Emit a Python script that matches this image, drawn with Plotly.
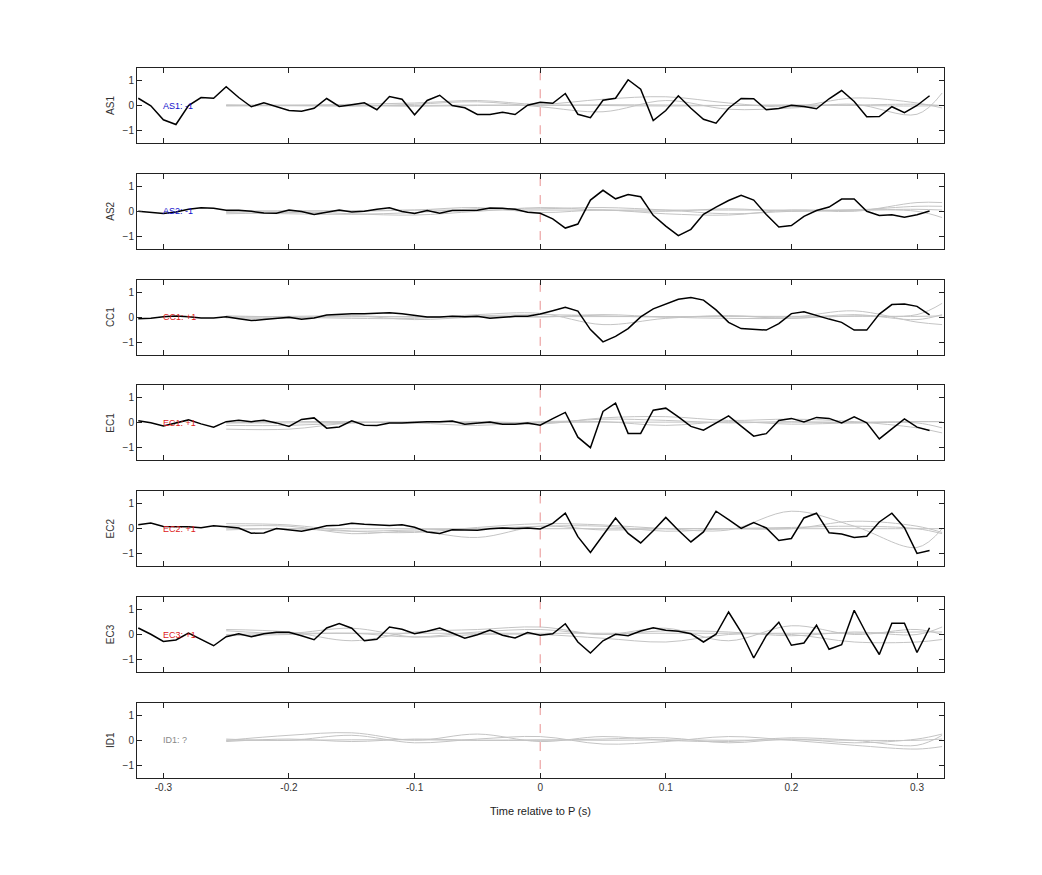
import plotly.graph_objects as go

x_black = [round(-0.32 + 0.01 * i, 2) for i in range(64)]
x_gray = [-0.25, -0.2, -0.15, -0.1, -0.05, 0.0, 0.05, 0.1, 0.15, 0.2, 0.25, 0.3, 0.32]

names = ["AS1", "AS2", "CC1", "EC1", "EC2", "EC3", "ID1"]
labels = ["AS1: -1", "AS2: -1", "CC1: +1", "EC1: +1", "EC2: +1", "EC3: +1", "ID1: ?"]
label_colors = ["#1010cc", "#1010cc", "#dd2020", "#dd2020", "#dd2020", "#dd2020", "#888888"]

AS1 = [0.29, -0.01, -0.57, -0.76, 0.0, 0.32, 0.29, 0.75, 0.32, -0.05, 0.11, -0.04, -0.2, -0.23, -0.11, 0.28,
       -0.04, 0.03, 0.11, -0.17, 0.36, 0.25, -0.37, 0.2, 0.41, 0.0, -0.09, -0.36, -0.36, -0.27, -0.36, 0.01,
       0.13, 0.09, 0.48, -0.35, -0.49, 0.21, 0.29, 1.03, 0.65, -0.6, -0.2, 0.39, -0.11, -0.55, -0.71, -0.11,
       0.28, 0.27, -0.17, -0.12, 0.01, -0.04, -0.13, 0.27, 0.6, 0.16, -0.45, -0.44, -0.05, -0.29, 0.0, 0.39]
AS2 = [0.0, -0.04, -0.09, -0.03, 0.08, 0.14, 0.12, 0.04, 0.04, 0.0, -0.07, -0.08, 0.05, -0.01, -0.13, -0.04,
       0.05, -0.03, 0.0, 0.08, 0.14, -0.01, -0.09, 0.03, -0.08, 0.03, 0.04, 0.04, 0.13, 0.12, 0.08, -0.04,
       -0.08, -0.3, -0.67, -0.51, 0.45, 0.84, 0.5, 0.67, 0.58, -0.16, -0.59, -0.97, -0.72, -0.12, 0.17, 0.43,
       0.64, 0.45, -0.13, -0.63, -0.57, -0.2, 0.03, 0.17, 0.49, 0.49, 0.0, -0.17, -0.14, -0.24, -0.14, 0.01]
CC1 = [-0.07, -0.05, 0.01, 0.04, 0.01, -0.04, -0.04, 0.01, -0.07, -0.14, -0.1, -0.04, -0.01, -0.09, -0.04, 0.08,
       0.12, 0.13, 0.13, 0.14, 0.17, 0.13, 0.05, 0.0, 0.0, 0.03, 0.01, 0.03, -0.05, -0.01, 0.03, 0.03,
       0.12, 0.25, 0.39, 0.24, -0.5, -0.99, -0.77, -0.46, 0.01, 0.33, 0.52, 0.71, 0.78, 0.68, 0.29, -0.21,
       -0.46, -0.48, -0.52, -0.26, 0.14, 0.21, 0.05, -0.08, -0.21, -0.52, -0.52, 0.12, 0.5, 0.52, 0.43, 0.09]
EC1 = [0.09, 0.01, -0.12, -0.01, 0.12, -0.04, -0.17, 0.05, 0.11, 0.05, 0.11, 0.0, -0.14, 0.14, 0.2, -0.21,
       -0.16, 0.08, -0.09, -0.1, 0.0, 0.0, 0.03, 0.05, 0.05, 0.08, -0.05, 0.0, 0.04, -0.05, -0.05, 0.0,
       -0.09, 0.17, 0.42, -0.57, -0.99, 0.46, 0.79, -0.42, -0.42, 0.51, 0.59, 0.24, -0.14, -0.29, 0.01, 0.28,
       -0.13, -0.53, -0.43, 0.1, 0.18, 0.04, 0.22, 0.18, 0.0, 0.24, 0.0, -0.64, -0.24, 0.16, -0.17, -0.3]
EC2 = [0.16, 0.23, 0.09, 0.09, 0.08, 0.04, 0.12, 0.08, 0.03, -0.18, -0.17, 0.01, -0.03, -0.1, 0.0, 0.12,
       0.14, 0.22, 0.18, 0.17, 0.13, 0.16, 0.06, -0.13, -0.19, -0.04, -0.06, -0.06, 0.0, 0.03, 0.01, 0.03,
       -0.01, 0.21, 0.62, -0.32, -0.95, -0.26, 0.43, -0.19, -0.57, -0.08, 0.45, -0.06, -0.53, -0.13, 0.7, 0.36,
       0.01, 0.25, 0.03, -0.47, -0.39, 0.43, 0.62, -0.16, -0.21, -0.35, -0.3, 0.27, 0.62, 0.04, -0.99, -0.87]
EC3 = [0.26, 0.01, -0.28, -0.22, 0.06, -0.19, -0.45, -0.09, 0.03, -0.09, 0.03, 0.09, 0.09, -0.05, -0.21, 0.26,
       0.44, 0.25, -0.25, -0.19, 0.3, 0.21, 0.03, 0.13, 0.26, 0.06, -0.15, -0.01, 0.18, -0.03, -0.14, 0.08,
       -0.03, 0.03, 0.43, -0.3, -0.74, -0.25, 0.01, -0.05, 0.14, 0.27, 0.17, 0.13, 0.03, -0.3, 0.01, 0.9,
       0.1, -0.94, -0.05, 0.49, -0.43, -0.34, 0.37, -0.59, -0.41, 0.97, 0.01, -0.8, 0.45, 0.45, -0.72, 0.27]
black_series = [AS1, AS2, CC1, EC1, EC2, EC3, None]

# gray background traces (4 per panel), values at x_gray
GRAY = {
    "AS1": [[0.0, 0.02, 0.0, -0.03, 0.0, 0.02, 0.0, -0.02, 0.0, 0.02, 0.0, -0.02, 0.0],
            [0.03, 0.0, 0.05, 0.1, 0.2, 0.05, 0.25, 0.35, 0.1, -0.05, 0.3, 0.1, -0.1],
            [-0.02, 0.0, -0.03, 0.05, 0.15, -0.05, -0.25, 0.2, -0.15, -0.1, 0.05, -0.35, 0.5],
            [0.0, -0.01, 0.01, 0.0, 0.02, 0.0, 0.03, 0.02, 0.0, 0.01, 0.02, 0.05, 0.0]],
    "AS2": [[-0.05, -0.1, -0.12, -0.05, 0.1, 0.1, 0.15, 0.05, -0.1, 0.0, 0.05, 0.2, 0.2],
            [0.0, 0.0, -0.1, -0.15, 0.0, 0.15, 0.05, 0.0, 0.1, 0.0, 0.05, 0.0, -0.25],
            [-0.1, -0.05, 0.0, 0.05, 0.15, -0.05, 0.05, -0.1, -0.15, 0.05, 0.0, 0.35, 0.35],
            [0.0, 0.02, 0.03, 0.05, 0.05, 0.05, 0.05, 0.05, 0.05, 0.05, 0.05, 0.08, 0.05]],
    "CC1": [[0.0, 0.03, 0.05, 0.0, 0.05, 0.1, 0.05, 0.0, 0.05, -0.05, 0.1, -0.1, 0.1],
            [0.05, 0.0, -0.05, -0.05, 0.1, 0.15, -0.3, -0.05, 0.05, 0.0, 0.25, -0.2, -0.3],
            [-0.03, -0.05, 0.05, -0.1, 0.0, 0.0, 0.1, 0.0, -0.05, -0.05, 0.05, 0.1, 0.55],
            [0.0, 0.0, 0.01, 0.02, 0.02, 0.02, 0.02, 0.02, 0.03, 0.03, 0.03, 0.03, 0.05]],
    "EC1": [[-0.25, -0.25, 0.0, 0.0, 0.05, 0.0, 0.15, 0.1, 0.0, 0.05, 0.0, 0.05, 0.05],
            [-0.1, -0.1, 0.0, 0.05, 0.0, -0.05, 0.2, 0.25, 0.1, 0.15, 0.05, -0.2, -0.4],
            [0.0, 0.05, 0.05, 0.0, -0.1, 0.05, 0.05, -0.1, 0.05, -0.05, 0.0, 0.0, -0.2],
            [0.0, 0.0, 0.02, 0.02, 0.02, 0.02, 0.03, 0.03, 0.03, 0.03, 0.03, 0.05, 0.05]],
    "EC2": [[0.2, 0.15, -0.1, -0.15, 0.05, 0.2, 0.15, 0.0, -0.05, 0.7, 0.1, -0.75, 0.0],
            [0.1, 0.1, -0.2, -0.1, -0.35, 0.1, -0.05, 0.0, 0.0, 0.0, 0.3, 0.1, -0.15],
            [-0.05, 0.0, -0.1, -0.05, 0.0, 0.1, 0.1, -0.1, 0.0, 0.05, 0.1, 0.0, -0.2],
            [0.0, 0.0, 0.0, 0.0, 0.0, 0.0, 0.0, 0.0, 0.0, 0.0, 0.0, 0.0, 0.0]],
    "EC3": [[0.2, 0.1, -0.25, 0.1, 0.2, 0.3, 0.0, 0.25, -0.25, 0.35, 0.0, 0.2, 0.0],
            [0.15, 0.05, 0.25, -0.1, 0.0, 0.0, -0.15, -0.3, 0.0, 0.0, -0.3, -0.3, -0.2],
            [-0.05, 0.0, 0.05, -0.1, 0.1, 0.2, 0.0, 0.15, 0.1, -0.05, 0.1, 0.0, 0.3],
            [0.0, 0.05, 0.05, 0.05, 0.05, 0.05, 0.05, 0.05, 0.05, 0.05, 0.05, 0.1, 0.1]],
    "ID1": [[0.0, 0.2, 0.3, 0.0, 0.25, -0.05, 0.15, 0.0, -0.05, 0.1, 0.0, -0.2, 0.2],
            [0.05, 0.0, 0.2, -0.1, 0.05, 0.15, -0.15, -0.05, 0.15, 0.0, -0.2, -0.35, -0.25],
            [-0.05, 0.05, -0.05, 0.05, 0.0, 0.0, 0.05, 0.1, -0.1, 0.05, -0.1, 0.05, 0.25],
            [0.0, 0.0, 0.02, 0.02, 0.0, 0.02, 0.0, 0.02, 0.0, 0.02, 0.0, 0.0, 0.05]],
}

x_ticks = [-0.3, -0.2, -0.1, 0, 0.1, 0.2, 0.3]
x_tick_text = ["-0.3", "-0.2", "-0.1", "0", "0.1", "0.2", "0.3"]
y_ticks = [-1, 0, 1]

W, H = 1042, 875
fig = go.Figure()
n = 7
off = 7
top_px, panel_px, step_px = 67 - off, 75, 105.8
left_px, right_px = 136 - off, 943 - off
font = "Liberation Sans, Arial, sans-serif"

for i, name in enumerate(names):
    ax = "" if i == 0 else str(i + 1)
    t = top_px + i * step_px
    b = t + panel_px
    dom = [1 - b / H, 1 - t / H]
    for g in GRAY[name]:
        fig.add_trace(go.Scatter(x=x_gray, y=g, mode="lines", line=dict(color="#c4c4c4", width=1, shape="spline", smoothing=1.0),
                                 xaxis="x" + ax, yaxis="y" + ax, showlegend=False, hoverinfo="skip"))
    fig.add_trace(go.Scatter(x=[0, 0], y=[-1.15, 1.5], mode="lines", line=dict(color="#e89090", width=1, dash="dash"),
                             xaxis="x" + ax, yaxis="y" + ax, showlegend=False))
    if black_series[i] is not None:
        fig.add_trace(go.Scatter(x=x_black, y=black_series[i], mode="lines", line=dict(color="black", width=1.5),
                                 xaxis="x" + ax, yaxis="y" + ax, showlegend=False))
    fig.add_annotation(x=-0.302, y=0, xref="x" + ax, yref="y" + ax, text=labels[i], showarrow=False,
                       xanchor="left", yanchor="middle", font=dict(size=9, color=label_colors[i], family=font))
    common = dict(showline=True, linecolor="#222", linewidth=1, mirror="ticks", ticks="inside", ticklen=5,
                  tickcolor="#222", showgrid=False, zeroline=False, tickfont=dict(size=10, color="#333", family=font))
    fig.update_layout(**{
        "xaxis" + ax: dict(range=[-0.321, 0.3215], domain=[left_px / W, right_px / W], anchor="y" + ax,
                           tickvals=x_ticks, ticktext=x_tick_text, showticklabels=(i == n - 1),
                           title=dict(text="Time relative to P (s)" if i == n - 1 else "", font=dict(size=11, color="#222", family=font)),
                           **common),
        "yaxis" + ax: dict(range=[-1.5, 1.5], domain=dom, anchor="x" + ax, tickvals=y_ticks,
                           title=dict(text=name, font=dict(size=10, color="#333", family=font), standoff=6), **common),
    })

fig.update_layout(width=W, height=H, margin=dict(l=0, r=0, t=0, b=0), plot_bgcolor="white", paper_bgcolor="white")
fig.write_html("out.html")
